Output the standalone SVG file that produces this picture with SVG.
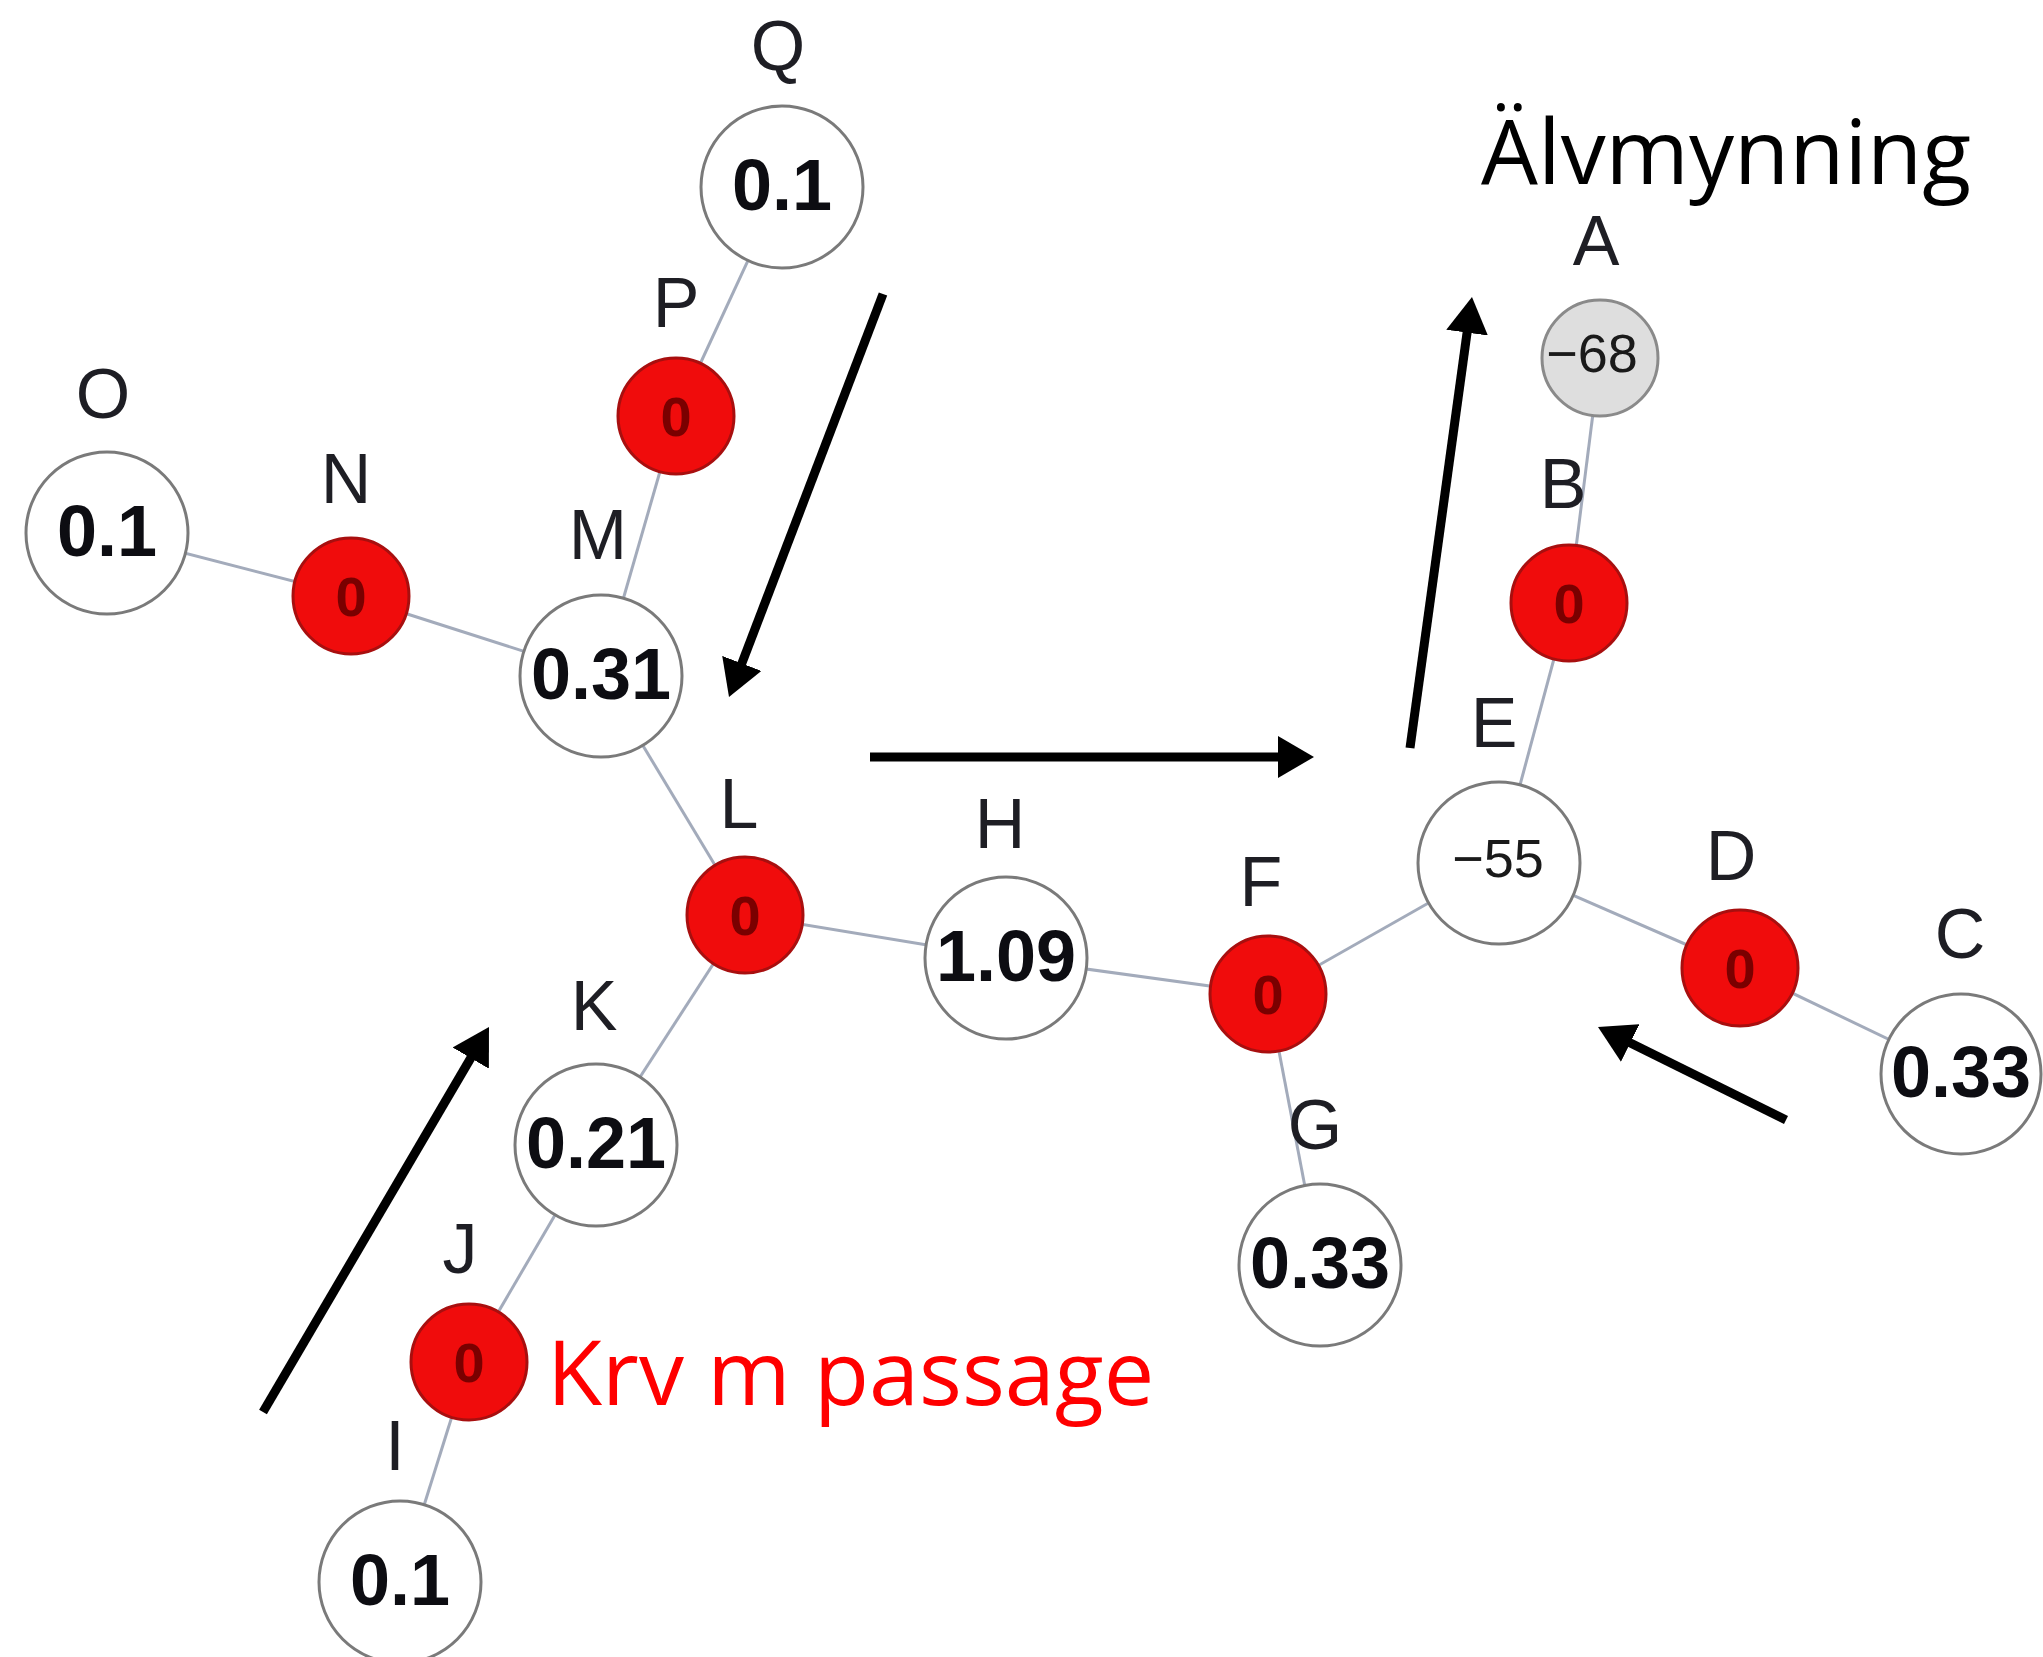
<svg xmlns="http://www.w3.org/2000/svg" width="2043" height="1657" viewBox="0 0 2043 1657">
<defs>
<style>
.edge{stroke:#a3abbb;stroke-width:3;fill:none}
.wn{fill:#ffffff;stroke:#7a7a7a;stroke-width:3}
.rn{fill:#f00c0c;stroke:#a80f0f;stroke-width:3}
.gn{fill:#dedede;stroke:#8a8a8a;stroke-width:3}
.lbl{font-family:"Liberation Sans",Arial,sans-serif;font-size:70px;fill:#1e1e24;text-anchor:middle}
.val{font-family:"Liberation Sans",Arial,sans-serif;font-size:72px;font-weight:bold;fill:#0d0d12;text-anchor:middle}
.rv{font-family:"Liberation Sans",Arial,sans-serif;font-size:56px;font-weight:bold;fill:#7a0000;text-anchor:middle}
.sv{font-family:"Liberation Sans",Arial,sans-serif;font-size:54px;fill:#1a1a1a;text-anchor:middle}
.arr{stroke:#000;stroke-width:9;fill:none;marker-end:url(#ah)}
.big{font-family:"Open Sans","Noto Sans",sans-serif;font-size:90px}
</style>
<marker id="ah" markerUnits="userSpaceOnUse" markerWidth="40" markerHeight="42" refX="6" refY="21" orient="auto">
<path d="M0,0 L36,21 L0,42 z" fill="#000"/>
</marker>
</defs>
<rect width="2043" height="1657" fill="#ffffff"/>
<g id="edges">
<line class="edge" x1="782" y1="187" x2="676" y2="416"/>
<line class="edge" x1="676" y1="416" x2="601" y2="676"/>
<line class="edge" x1="107" y1="533" x2="351" y2="596"/>
<line class="edge" x1="351" y1="596" x2="601" y2="676"/>
<line class="edge" x1="601" y1="676" x2="745" y2="915"/>
<line class="edge" x1="745" y1="915" x2="1006" y2="958"/>
<line class="edge" x1="745" y1="915" x2="596" y2="1145"/>
<line class="edge" x1="596" y1="1145" x2="469" y2="1362"/>
<line class="edge" x1="469" y1="1362" x2="400" y2="1582"/>
<line class="edge" x1="1006" y1="958" x2="1268" y2="994"/>
<line class="edge" x1="1268" y1="994" x2="1320" y2="1265"/>
<line class="edge" x1="1268" y1="994" x2="1499" y2="863"/>
<line class="edge" x1="1499" y1="863" x2="1569" y2="603"/>
<line class="edge" x1="1569" y1="603" x2="1600" y2="358"/>
<line class="edge" x1="1499" y1="863" x2="1740" y2="968"/>
<line class="edge" x1="1740" y1="968" x2="1961" y2="1074"/>
</g>
<g id="node-Q"><circle class="wn" cx="782" cy="187" r="81"/><text class="val" x="782" y="210">0.1</text><text class="lbl" x="778" y="70">Q</text></g>
<g id="node-P"><circle class="rn" cx="676" cy="416" r="58"/><text class="rv" x="676" y="436">0</text><text class="lbl" x="676" y="327">P</text></g>
<g id="node-O"><circle class="wn" cx="107" cy="533" r="81"/><text class="val" x="107" y="556">0.1</text><text class="lbl" x="103" y="418">O</text></g>
<g id="node-N"><circle class="rn" cx="351" cy="596" r="58"/><text class="rv" x="351" y="616">0</text><text class="lbl" x="346" y="503">N</text></g>
<g id="node-M"><circle class="wn" cx="601" cy="676" r="81"/><text class="val" x="601" y="699">0.31</text><text class="lbl" x="598" y="559">M</text></g>
<g id="node-L"><circle class="rn" cx="745" cy="915" r="58"/><text class="rv" x="745" y="935">0</text><text class="lbl" x="739" y="828">L</text></g>
<g id="node-K"><circle class="wn" cx="596" cy="1145" r="81"/><text class="val" x="596" y="1168">0.21</text><text class="lbl" x="594" y="1030">K</text></g>
<g id="node-J"><circle class="rn" cx="469" cy="1362" r="58"/><text class="rv" x="469" y="1382">0</text><text class="lbl" x="460" y="1273">J</text></g>
<g id="node-I"><circle class="wn" cx="400" cy="1582" r="81"/><text class="val" x="400" y="1605">0.1</text><text class="lbl" x="395" y="1470">I</text></g>
<g id="node-H"><circle class="wn" cx="1006" cy="958" r="81"/><text class="val" x="1006" y="981">1.09</text><text class="lbl" x="1000" y="848">H</text></g>
<g id="node-F"><circle class="rn" cx="1268" cy="994" r="58"/><text class="rv" x="1268" y="1014">0</text><text class="lbl" x="1261" y="906">F</text></g>
<g id="node-G"><circle class="wn" cx="1320" cy="1265" r="81"/><text class="val" x="1320" y="1288">0.33</text><text class="lbl" x="1315" y="1149">G</text></g>
<g id="node-E"><circle class="wn" cx="1499" cy="863" r="81"/><text class="sv" x="1498" y="877">−55</text><text class="lbl" x="1494" y="747">E</text></g>
<g id="node-D"><circle class="rn" cx="1740" cy="968" r="58"/><text class="rv" x="1740" y="988">0</text><text class="lbl" x="1731" y="880">D</text></g>
<g id="node-C"><circle class="wn" cx="1961" cy="1074" r="80"/><text class="val" x="1961" y="1097">0.33</text><text class="lbl" x="1960" y="958">C</text></g>
<g id="node-B"><circle class="rn" cx="1569" cy="603" r="58"/><text class="rv" x="1569" y="623">0</text><text class="lbl" x="1563" y="508">B</text></g>
<g id="node-A"><circle class="gn" cx="1600" cy="358" r="58"/><text class="sv" x="1592" y="372">−68</text><text class="lbl" x="1596" y="265">A</text></g>
<g id="arrows">
<line class="arr" x1="883" y1="294" x2="739.7" y2="669"/>
<line class="arr" x1="870" y1="757" x2="1284" y2="757"/>
<line class="arr" x1="1410" y1="748" x2="1467.9" y2="326.7"/>
<line class="arr" x1="263" y1="1412" x2="473.8" y2="1052.9"/>
<line class="arr" x1="1786" y1="1120" x2="1624.9" y2="1040.3"/>
</g>
<text class="big" x="1481" y="184" fill="#000000">Älvmynning</text>
<text class="big" x="547" y="1405" fill="#ff0000">Krv m passage</text>
</svg>
